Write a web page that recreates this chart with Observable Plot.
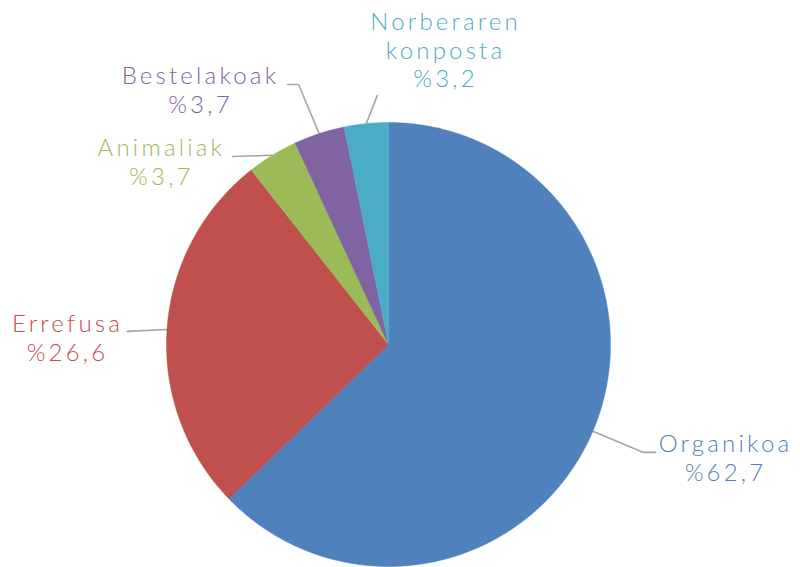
<!DOCTYPE html>
<html><head><meta charset="utf-8">
<script src="https://cdn.jsdelivr.net/npm/d3@7"></script>
<script src="https://cdn.jsdelivr.net/npm/@observablehq/plot@0.6"></script>
<style>body{margin:0;background:#fff;overflow:hidden}</style>
</head><body><div id="chart"></div>
<script>
// ---- data ----
const categories = ["Organikoa", "Errefusa", "Animaliak", "Bestelakoak", "Norberaren konposta"];
const labelNames = ["Organikoa", "Errefusa", "Animaliak", "Bestelakoak", "Norberaren\nkonposta"];
const values = [62.7, 26.6, 3.7, 3.7, 3.2];
const valueLabels = ["%62,7", "%26,6", "%3,7", "%3,7", "%3,2"];
const colors = ["#4F81BD", "#C0504D", "#9BBB59", "#8064A2", "#4BACC6"];

// ---- layout (unit-circle coordinates, radius = 1) ----
const W = 800, H = 567, R = 222, CX = 388, CY = 344;
const labelLayout = [
  {lx: 1.518, ly: -0.509, path: [[1.149, -0.486], [1.203, -0.486]]},
  {lx: -1.446, ly: 0.032, path: [[-1.176, 0.059]]},
  {lx: -1.023, ly: 0.824, path: [[-0.703, 0.847]]},
  {lx: -0.847, ly: 1.149, path: [[-0.405, 1.171], [-0.455, 1.171]]},
  {lx: 0.257, ly: 1.329, path: [[-0.05, 1.122]]}
];

const arcs = d3.pie().sort(null).value(d => d)(values);
const slices = arcs.map((a, i) => {
  const pts = [{x: 0, y: 0}];
  const n = Math.max(4, Math.ceil((a.endAngle - a.startAngle) / 0.005));
  for (let k = 0; k <= n; k++) {
    const t = a.startAngle + (a.endAngle - a.startAngle) * k / n;
    pts.push({x: Math.sin(t), y: Math.cos(t)});
  }
  pts.push({x: 0, y: 0});
  return pts;
});

const leaderPts = [];
arcs.forEach((a, i) => {
  const cat = categories[i];
  const m = (a.startAngle + a.endAngle) / 2;
  leaderPts.push({cat, x: Math.sin(m), y: Math.cos(m)});
  labelLayout[i].path.forEach(([x, y]) => leaderPts.push({cat, x, y}));
});

const labels = categories.map((cat, i) => ({
  cat, x: labelLayout[i].lx, y: labelLayout[i].ly,
  text: labelNames[i] + "\n" + valueLabels[i]
}));

const chart = Plot.plot({
  width: W, height: H,
  marginTop: 0, marginBottom: 0, marginLeft: 0, marginRight: 0,
  x: {domain: [-CX / R, (W - CX) / R], range: [0, W], axis: null},
  y: {domain: [-(H - CY) / R, CY / R], range: [H, 0], axis: null},
  color: {domain: categories, range: colors},
  style: {fontFamily: "Lato, 'Open Sans', sans-serif", background: "#fff", overflow: "visible"},
  marks: [
    Plot.line(leaderPts, {x: "x", y: "y", z: "cat", stroke: "#a6a6a6", strokeWidth: 1.6, curve: "linear"}),
    ...slices.map((pts, i) => Plot.line(pts, {x: "x", y: "y", fill: colors[i], stroke: colors[i], strokeWidth: 0.5, curve: "linear"})),
    Plot.text(labels, {x: "x", y: "y", text: "text", fill: "cat", fontSize: 24, fontWeight: 300,
      lineHeight: 1.2, textAnchor: "middle", lineAnchor: "middle"})
  ]
});
document.getElementById("chart").appendChild(chart);
chart.querySelectorAll('g[aria-label="text"] text').forEach(t => t.style.letterSpacing = "3.2px");
</script>
</body></html>
